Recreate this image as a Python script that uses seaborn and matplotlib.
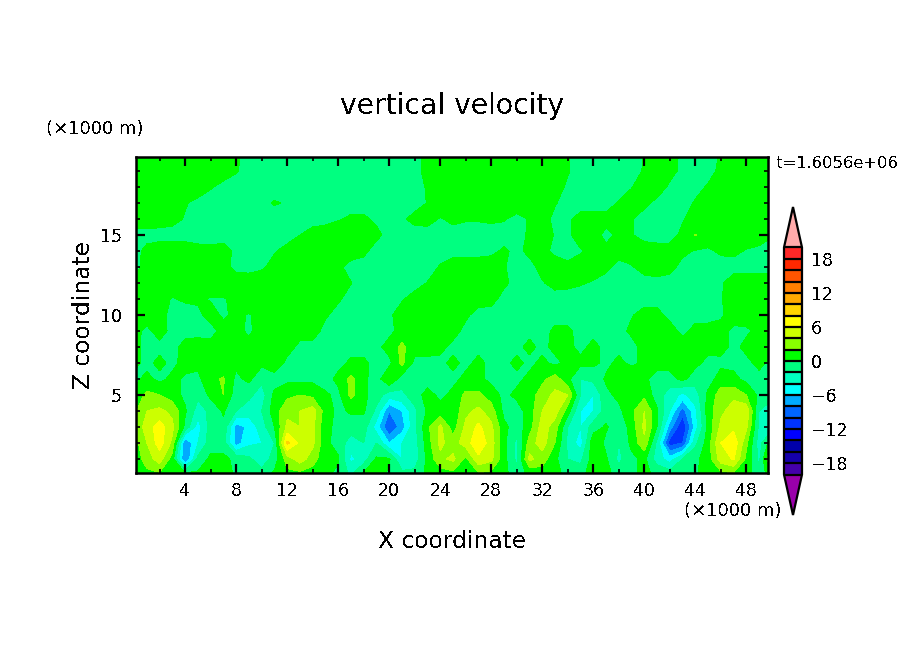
import numpy as np
import matplotlib
matplotlib.use("Agg")
import matplotlib.pyplot as plt
from matplotlib.colors import ListedColormap, BoundaryNorm
from matplotlib.ticker import MultipleLocator
import seaborn as sns

# ---- data: vertical velocity at x = 0..50 km, one list per height ----
x_km = list(range(51))
z_km = [0.1, 1, 2, 3, 4, 5, 6, 7, 8, 9, 10, 11, 12, 13, 14, 15, 16, 17, 18, 19, 20]

z00 = [.5,1.5,1.8,.5,.2,.3,.8,.8,-.3,-.5, -1,.3,1.5,1.5,1,.5,-.5,-2.5,.3,.8, -.3,-1.5,-1.5,.5,1,1.5,1.5,1.8,1.5,.5, -1,.5,1,.5,-.5,-1,1.5,.7,-1,-.5, .5,-.5,-1,-1,-.3,1,1.5,1.8,1,-1.5, 1.5]
z01 = [.5,3,5,1,-8.5,-1.5,.5,.5,-.5,-1.5, -3.5,-1,3,5,3,.5,.3,-4.5,-3,.3, .3,-4,-3,.5,3.5,4.5,1.5,5.5,4.5,.7, -2.5,4.5,3,.5,-2,-2.5,1,.3,-2.5,-.5, .5,-3,-5,-2,-.5,1,5,6.2,1.5,-2.5, 5]
z02 = [1,4,7,3.5,-8,-4,-1,-1,-7,-4.5, -4,-2,8.5,5.5,4.5,.5,-.8,-3,-2,-2, -6,-4,-3,1,4.5,3,5,7.5,5,.5, -2.5,3,5,2,-2.5,-5,1.5,-.5,-2,.5, 3.5,-2.5,-11,-10,-2.5,1,6,7.5,2.5,-3, 1.5]
z03 = [2,5,7,4.5,-.5,-5,-1,-.5,-7,-5.5, -3,0,4.5,4,4.5,.5,-.5,-1,-1,-5, -10,-7,-2.5,1.5,4.5,1,4.5,6.5,4.5,.5, -1,1,5,3,-2,-4,-1,.3,-1.5,.8, 4.5,0,-7,-12,-5,.5,4.5,5.5,4.5,-2.5, -3]
z04 = [1.5,4,4.5,3.5,.3,-3,-1.5,.3,-2,-3, -2,1,3.5,4,5,1,-.5,.3,.3,-2.5, -8,-6,-2.5,.3,.8,.5,3.5,4.5,3,-.5, -1,1,4,5,1,-4,-4,-1,-.5,1.5, 4,.3,-4,-9,-4.5,1,3.5,5,5.5,-2, -3]
z05 = [.5,2.5,2,1,-.5,-1.5,.5,2,-1,-1.5, -3,.5,1.5,2,1.5,.3,-.5,2.5,.5,-1, -3,-2.5,-1,.8,-.5,.5,2.5,2.5,1,-.5, .5,1,3,4.5,4,-2,-4,-.5,.5,1.5, 1.5,-1,-3,-4.5,-3,.5,3,3.5,2,-.5, -1.5]
z06 = [-.5,.5,-.5,.5,-.3,-.5,1.5,2.2,-.5,.5, -1.5,-1,-.5,-.5,-.5,-.8,.5,2.5,.5,-1, 2,-1,-.7,-1,-.5,-.5,.5,.5,-.5,-1.5, -.5,.5,1.5,3,.5,-2,-1.5,.3,.5,2, .5,-1,-.8,.5,-1,-1,1,.5,-.5,-.6, -.6]
z07 = [.5,-.5,.5,-.5,.7,.5,.7,.8,.5,.7, .5,1.5,-.5,-.5,-.5,-.5,-.5,.3,.3,-.5, -.5,2.5,-.5,-.5,-.5,.5,-.5,.5,-.5,-.5, .5,-.5,.5,-.5,.5,.5,.5,-.5,.5,-.5, .5,1,.8,1.5,.5,-.5,-.5,-.5,-.5,.5, -.5]
z08 = [.5,-.5,-.5,-.5,.5,.7,.5,.8,.8,.7, .5,.8,.8,-.5,-.5,-.5,-.5,-.5,-.5,-.5, .7,2.5,.7,.7,.5,-.5,-.5,-.5,-.5,-.5, -.5,.5,-.5,.5,.5,-.5,.5,-.5,-.5,-.5, .5,.8,.8,1,.7,.5,.7,-.5,.5,.5, .7]
z09 = [.5,-.4,.7,-.5,-.5,-.5,-.5,.5,.5,-.3, .7,.8,.8,.8,.7,-.5,-.5,-.5,-.5,-.5, -.5,.7,.8,.8,.8,.7,-.5,-.5,-.5,-.5, -.5,-.5,-.5,.3,.3,-.5,-.5,-.5,-.5,.3, .7,.8,.8,-.5,.5,.5,.5,-.3,-.3,.5, .5]
z10 = [.6,.8,.6,-.5,-.6,-.3,.5,-.2,.3,-.1, .5,.8,.9,.9,.8,.2,-.5,-.6,-.6,-.6, -.2,.5,.8,.8,.8,.8,.3,-.6,-.6,-.6, -.6,-.6,-.6,-.6,-.6,-.6,-.6,-.6,-.6,-.1, .5,.5,-.5,-.5,-.5,-.5,-.2,.6,.8,.8, .8]
z11 = [.8,.8,.5,-.1,.2,.2,-.1,-.1,.3,.8, .8,.8,.8,.8,.8,.8,.2,-.5,-.5,-.5, -.5,-.1,.4,.8,.8,.8,.8,.7,.5,-.5, -.5,-.5,-.5,-.5,-.5,-.5,-.5,-.5,-.5,-.5, -.5,-.5,-.5,-.5,-.5,-.5,-.1,.7,.8,.8, .8]
z12 = [.3,.8,.8,.8,.8,.8,.8,.8,.8,.8, .8,.8,.8,.8,.8,.8,.8,.05,-.5,-.5, -.5,-.5,-.4,.05,.7,.8,.8,.8,.7,.3, -.5,-.5,-.1,.4,.3,.1,-.1,-.5,-.5,-.5, -.5,-.5,-.5,-.5,-.5,-.5,-.2,.7,.8,.8, .8]
z13 = [-.5,.5,.8,.8,.8,.8,.8,.5,-.4,-.5, -.2,.4,.8,.8,.8,.8,.3,-.5,-.5,-.5, -.5,-.5,-.5,-.5,.1,.7,.8,.8,.7,.1, -.5,-.4,.4,.7,.3,.5,.5,.3,-.4,-.1, .5,.8,.4,-.4,-.5,-.5,-.5,-.5,-.5,-.5, -.5]
z14 = [-.5,.4,.7,.7,.7,.4,.3,.5,-.3,-.5, -.5,-.1,.4,.8,.8,.8,.6,.7,.3,-.5, -.5,-.5,-.5,-.5,-.5,-.5,-.5,-.5,-.3,.2, -.3,.3,.4,-.3,-.5,-.1,.3,.3,.5,.6, .7,.5,.5,.3,-.1,-.2,.2,.3,-.1,-.4, -.5]
z15 = [-.5,-.5,-.5,-.5,-.5,-.5,-.5,-.5,-.5,-.5, -.5,-.5,-.5,0,.5,.8,.8,.8,.8,.3, -.4,-.6,-.6,-.6,-.6,-.5,-.5,-.5,-.5,-.5, -.5,.2,.7,-.1,-.2,.5,.5,-.3,.2,.1, -.5,-.5,-.5,.3,2.1,.8,.8,.8,.8,.8, .1]
z16 = [.8,.8,.6,.4,-.1,-.5,-.5,-.5,-.5,-.5, -.5,-.5,-.5,-.5,-.5,-.5,-.1,.2,.2,-.2, -.5,-.2,.4,.5,-.1,.3,.1,.1,.2,.1, -.4,.1,.5,-.3,-.2,.4,.5,.4,.5,.1, -.5,-.5,-.4,-.1,.5,.8,.8,.8,.8,.8, .8]
z17 = [.8,.8,.8,.6,.1,-.3,-.5,-.5,-.5,-.5, -.4,.1,-.1,-.5,-.5,-.5,-.5,-.5,-.5,-.5, -.5,-.5,-.5,.05,.8,.8,.8,.8,.8,.8, .8,.8,.5,.1,-.5,-.5,-.5,-.5,.1,.5, .3,-.3,-.5,-.4,.1,.8,.8,.8,.8,.8, .8]
z18 = [.8,.8,.8,.8,.8,.6,.1,-.3,-.5,-.5, -.5,-.5,-.5,-.5,-.5,-.5,-.5,-.5,-.5,-.5, -.5,-.5,-.4,.1,.8,.8,.8,.8,.8,.8, .8,.8,.8,.5,-.2,-.5,-.5,-.5,-.5,-.05, .6,.6,-.2,-.5,-.3,.1,.8,.8,.8,.8, .8]
z19 = [.8,.8,.8,.8,.8,.8,.8,.5,.1,-.4, -.5,-.5,-.5,-.5,-.5,-.5,-.5,-.5,-.5,-.5, -.5,-.5,-.5,.5,.8,.8,.8,.8,.8,.8, .8,.8,.8,.8,.1,-.5,-.5,-.5,-.5,-.4, .1,.6,.4,-.3,-.5,-.3,.2,.8,.8,.8, .8]
z20 = [.8,.8,.8,.8,.8,.8,.8,.8,.2,-.5, -.5,-.5,-.5,-.5,-.5,-.5,-.5,-.5,-.5,-.5, -.5,-.5,-.5,.5,.8,.8,.8,.8,.8,.8, .8,.8,.8,.8,.1,-.5,-.5,-.5,-.5,-.5, .05,.6,.6,-.3,-.5,-.4,.1,.8,.8,.8, .8]

levels = list(range(-20, 22, 2))
bar_ticks = [-18, -12, -6, 0, 6, 12, 18]
x_ticks = list(range(4, 52, 4))
z_ticks = [5, 10, 15]
band_colors = ["#4400AA", "#1500AA", "#0000AA", "#0000FF", "#0033FF", "#0066FF", "#00AAFF",
               "#00FFFF", "#00FFBF", "#00FF80", "#00FF00", "#88FF00", "#CCFF00", "#FFFF00",
               "#FFD400", "#FFAA00", "#FF7F00", "#FF5500", "#FF2800", "#FF2828"]
under_color, over_color = "#9900AA", "#FFAAAA"

# ---- figure ----
W, H = 904, 654
sns.set_theme(style="white", rc={"axes.edgecolor": "black", "text.color": "black",
                                 "xtick.color": "black", "ytick.color": "black"})
plt.rcParams["font.family"] = ["DejaVu Sans"]
plt.rcParams["text.antialiased"] = False
fig = plt.figure(figsize=(W / 100, H / 100), dpi=100, facecolor="white")


def box(l, t, r, b):
    return [l / W, 1 - b / H, (r - l) / W, (b - t) / H]


ax = fig.add_axes(box(136, 157, 768, 473))
values = np.array([z00, z01, z02, z03, z04, z05, z06, z07, z08, z09, z10,
                   z11, z12, z13, z14, z15, z16, z17, z18, z19, z20])
cmap = ListedColormap(sns.color_palette(band_colors, n_colors=len(band_colors)))
cmap.set_under(under_color)
cmap.set_over(over_color)
norm = BoundaryNorm(levels, cmap.N)
cf = ax.contourf(x_km, z_km, values, levels=levels, cmap=cmap, norm=norm,
                 extend="both", antialiased=False)
ax.set_axisbelow(False)
ax.set_xlim(0.15, 49.7)
ax.set_ylim(0.125, 19.875)
ax.xaxis.set_major_locator(plt.FixedLocator(x_ticks))
ax.xaxis.set_minor_locator(MultipleLocator(2))
ax.yaxis.set_major_locator(plt.FixedLocator(z_ticks))
ax.yaxis.set_minor_locator(MultipleLocator(1))
ax.tick_params(which="major", direction="in", top=True, right=True, bottom=True, left=True,
               length=6.5, width=1.6, labelsize=12.5)
ax.tick_params(which="minor", direction="in", top=True, right=True, bottom=True, left=True,
               length=3, width=1.2)
ax.tick_params(axis="x", which="major", pad=6.5)
ax.tick_params(axis="y", which="major", pad=10)
ax.grid(False)
for s in ax.spines.values():
    s.set_linewidth(1.8)
    s.set_color("black")

cax = fig.add_axes(box(784, 207, 802, 515))
cb = fig.colorbar(cf, cax=cax, extend="both", extendfrac=0.178, drawedges=True,
                  ticks=bar_ticks, spacing="uniform")
cb.ax.minorticks_off()
cb.ax.tick_params(which="both", length=0, labelsize=12.5, pad=6.5)
cb.dividers.set_color("black")
cb.dividers.set_linewidth(1.6)
cb.outline.set_linewidth(1.6)
cb.outline.set_edgecolor("black")


def label(px, py, s, size, **kw):
    fig.text(px / W, 1 - py / H, s, fontsize=size, ha="center", va="center", **kw)


label(452, 106, "vertical velocity", 20.3)
label(452, 541, "X coordinate", 16.8)
label(83, 315, "Z coordinate", 16.8, rotation=90)
label(95, 129, "(×1000 m)", 13)
label(733, 511, "(×1000 m)", 13)
label(838, 163, "t=1.6056e+06", 11.8)

fig.savefig("out.png", dpi=100, facecolor="white")
